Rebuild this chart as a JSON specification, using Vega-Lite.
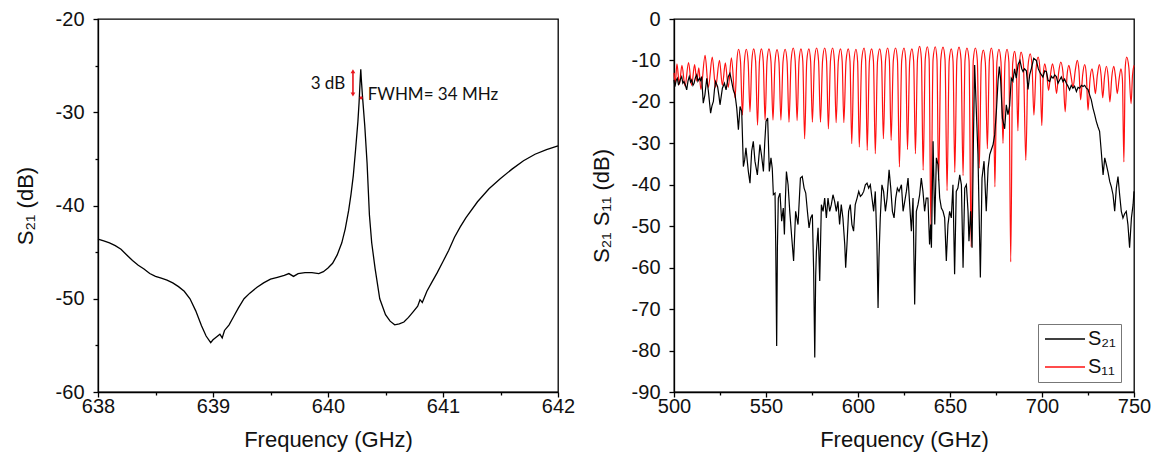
{
  "$schema": "https://vega.github.io/schema/vega-lite/v6.json",
  "background": "white",
  "padding": {"left": 13, "top": 8, "right": 4, "bottom": 4},
  "spacing": 13,
  "config": {
    "view": {"stroke": "#000", "strokeWidth": 1.3},
    "axis": {
      "domainColor": "#000", "domainWidth": 1.3, "tickColor": "#000", "tickWidth": 1.3,
      "labelFont": "Liberation Sans", "labelFontSize": 20, "labelColor": "#111",
      "titleFont": "Liberation Sans", "titleFontSize": 22, "titleFontWeight": "normal", "titleColor": "#111",
      "grid": false, "labelFlush": false, "labelOverlap": false
    },
    "axisX": {"labelPadding": -1, "titlePadding": 13},
    "axisY": {"labelPadding": 9, "titlePadding": 18}
  },
  "datasets": {
    "left": [
      {"f":638.00,"v":-43.6},{"f":638.05,"v":-43.8},{"f":638.10,"v":-44.0},{"f":638.15,"v":-44.3},{"f":638.20,"v":-44.7},
      {"f":638.25,"v":-45.3},{"f":638.30,"v":-45.9},{"f":638.35,"v":-46.4},{"f":638.40,"v":-46.8},{"f":638.45,"v":-47.3},
      {"f":638.50,"v":-47.6},{"f":638.55,"v":-47.8},{"f":638.60,"v":-48.0},{"f":638.65,"v":-48.3},{"f":638.70,"v":-48.7},
      {"f":638.75,"v":-49.2},{"f":638.80,"v":-50.0},{"f":638.85,"v":-51.3},{"f":638.90,"v":-52.9},{"f":638.94,"v":-54.0},
      {"f":638.98,"v":-54.7},{"f":639.00,"v":-54.4},{"f":639.03,"v":-54.1},{"f":639.06,"v":-53.8},{"f":639.08,"v":-54.2},
      {"f":639.10,"v":-53.4},{"f":639.14,"v":-52.8},{"f":639.18,"v":-51.9},{"f":639.22,"v":-51.0},{"f":639.27,"v":-50.0},
      {"f":639.32,"v":-49.4},{"f":639.38,"v":-48.8},{"f":639.44,"v":-48.3},{"f":639.50,"v":-47.9},{"f":639.56,"v":-47.7},
      {"f":639.62,"v":-47.5},{"f":639.66,"v":-47.3},{"f":639.70,"v":-47.6},{"f":639.74,"v":-47.3},{"f":639.80,"v":-47.2},
      {"f":639.86,"v":-47.2},{"f":639.92,"v":-47.3},{"f":639.96,"v":-47.1},{"f":640.00,"v":-46.7},{"f":640.04,"v":-46.2},
      {"f":640.08,"v":-45.3},{"f":640.12,"v":-44.0},{"f":640.15,"v":-42.5},{"f":640.18,"v":-40.5},{"f":640.20,"v":-38.8},
      {"f":640.22,"v":-36.8},{"f":640.24,"v":-34.0},{"f":640.26,"v":-31.0},{"f":640.27,"v":-29.0},{"f":640.28,"v":-26.5},
      {"f":640.285,"v":-25.4},{"f":640.29,"v":-26.5},{"f":640.30,"v":-28.3},{"f":640.32,"v":-31.5},{"f":640.34,"v":-35.5},
      {"f":640.36,"v":-41.0},{"f":640.38,"v":-44.0},{"f":640.41,"v":-46.8},{"f":640.45,"v":-50.0},{"f":640.50,"v":-51.7},
      {"f":640.54,"v":-52.4},{"f":640.58,"v":-52.8},{"f":640.62,"v":-52.7},{"f":640.66,"v":-52.5},{"f":640.70,"v":-52.0},
      {"f":640.74,"v":-51.4},{"f":640.78,"v":-50.8},{"f":640.80,"v":-50.1},{"f":640.82,"v":-50.4},{"f":640.86,"v":-49.2},
      {"f":640.90,"v":-48.3},{"f":640.95,"v":-47.2},{"f":641.00,"v":-46.0},{"f":641.05,"v":-44.8},{"f":641.10,"v":-43.4},
      {"f":641.15,"v":-42.3},{"f":641.20,"v":-41.3},{"f":641.30,"v":-39.6},{"f":641.40,"v":-38.2},{"f":641.50,"v":-37.1},
      {"f":641.60,"v":-36.1},{"f":641.70,"v":-35.2},{"f":641.80,"v":-34.5},{"f":641.90,"v":-34.0},{"f":642.00,"v":-33.6}
    ],
    "s11": [
      {"f":500.0,"v":-13.0},{"f":500.7,"v":-15.5},{"f":501.6,"v":-10.8},{"f":502.9,"v":-15.8},{"f":504.3,"v":-11.2},
      {"f":506.0,"v":-16.2},{"f":507.9,"v":-10.5},{"f":509.6,"v":-16.0},{"f":511.2,"v":-11.0},{"f":512.4,"v":-15.0},
      {"f":513.5,"v":-11.8},{"f":514.6,"v":-17.0},{"f":516.9,"v":-8.8},{"f":518.7,"v":-16.5},{"f":520.8,"v":-9.2},
      {"f":522.6,"v":-16.5},{"f":524.7,"v":-10.0},{"f":526.3,"v":-16.0},{"f":527.9,"v":-10.6},{"f":529.5,"v":-16.5},
      {"f":531.2,"v":-9.4},{"f":533.2,"v":-19.0},
      {"f":534.15,"v":-10.3},{"f":535.1,"v":-7.3},{"f":536.15,"v":-10.3},{"f":537.2,"v":-23.2},
      {"f":538.25,"v":-10.3},{"f":539.3,"v":-7.3},{"f":540.3,"v":-10.3},{"f":541.3,"v":-22.4},
      {"f":542.3,"v":-10.2},{"f":543.3,"v":-7.2},{"f":544.35,"v":-10.2},{"f":545.4,"v":-25.6},
      {"f":546.45,"v":-10.2},{"f":547.5,"v":-7.2},{"f":548.5,"v":-10.2},{"f":549.5,"v":-24.4},
      {"f":550.55,"v":-10.2},{"f":551.6,"v":-7.2},{"f":552.7,"v":-10.2},{"f":553.8,"v":-24.4},
      {"f":554.9,"v":-10.4},{"f":556.0,"v":-7.4},{"f":557.05,"v":-10.4},{"f":558.1,"v":-24.4},
      {"f":559.25,"v":-10.3},{"f":560.4,"v":-7.3},{"f":561.45,"v":-10.3},{"f":562.5,"v":-24.9},
      {"f":563.65,"v":-10.0},{"f":564.8,"v":-7.0},{"f":565.85,"v":-10.0},{"f":566.9,"v":-24.5},
      {"f":567.95,"v":-10.2},{"f":569.0,"v":-7.2},{"f":570.0,"v":-10.2},{"f":571.0,"v":-28.9},
      {"f":572.15,"v":-10.2},{"f":573.3,"v":-7.2},{"f":574.25,"v":-10.2},{"f":575.2,"v":-24.9},
      {"f":576.35,"v":-10.0},{"f":577.5,"v":-7.0},{"f":578.55,"v":-10.0},{"f":579.6,"v":-24.9},
      {"f":580.75,"v":-10.0},{"f":581.9,"v":-7.0},{"f":582.9,"v":-10.0},{"f":583.9,"v":-26.5},
      {"f":585.05,"v":-10.0},{"f":586.2,"v":-7.0},{"f":587.15,"v":-10.0},{"f":588.1,"v":-25.0},
      {"f":589.3,"v":-10.2},{"f":590.5,"v":-7.2},{"f":591.4,"v":-10.2},{"f":592.3,"v":-25.0},
      {"f":593.5,"v":-10.2},{"f":594.7,"v":-7.2},{"f":595.65,"v":-10.2},{"f":596.6,"v":-30.1},
      {"f":597.75,"v":-10.3},{"f":598.9,"v":-7.3},{"f":599.8,"v":-10.3},{"f":600.7,"v":-30.9},
      {"f":602.0,"v":-10.0},{"f":603.3,"v":-7.0},{"f":604.15,"v":-10.0},{"f":605.0,"v":-31.7},
      {"f":606.2,"v":-10.2},{"f":607.4,"v":-7.2},{"f":608.4,"v":-10.2},{"f":609.4,"v":-32.5},
      {"f":610.6,"v":-10.2},{"f":611.8,"v":-7.2},{"f":612.8,"v":-10.2},{"f":613.8,"v":-28.9},
      {"f":614.95,"v":-10.0},{"f":616.1,"v":-7.0},{"f":617.05,"v":-10.0},{"f":618.0,"v":-29.3},
      {"f":619.2,"v":-10.0},{"f":620.4,"v":-7.0},{"f":621.45,"v":-10.0},{"f":622.5,"v":-35.7},
      {"f":623.75,"v":-10.0},{"f":625.0,"v":-7.0},{"f":625.95,"v":-10.0},{"f":626.9,"v":-31.5},
      {"f":628.1,"v":-10.2},{"f":629.3,"v":-7.2},{"f":630.25,"v":-10.2},{"f":631.2,"v":-32.5},
      {"f":632.35,"v":-9.6},{"f":633.5,"v":-6.6},{"f":634.45,"v":-9.6},{"f":635.4,"v":-36.5},
      {"f":636.55,"v":-9.7},{"f":637.7,"v":-6.7},{"f":638.65,"v":-9.7},{"f":639.6,"v":-50.0},
      {"f":640.8,"v":-9.7},{"f":642.0,"v":-6.7},{"f":642.9,"v":-9.7},{"f":643.8,"v":-39.0},
      {"f":645.0,"v":-9.8},{"f":646.2,"v":-6.8},{"f":647.3,"v":-9.8},{"f":648.4,"v":-41.4},
      {"f":649.55,"v":-10.2},{"f":650.7,"v":-7.2},{"f":651.65,"v":-10.2},{"f":652.6,"v":-37.0},
      {"f":653.75,"v":-9.8},{"f":654.9,"v":-6.8},{"f":656.0,"v":-9.8},{"f":657.1,"v":-37.8},
      {"f":658.15,"v":-10.0},{"f":659.2,"v":-7.0},{"f":660.35,"v":-10.0},{"f":661.5,"v":-55.0},
      {"f":662.65,"v":-10.0},{"f":663.8,"v":-7.0},{"f":664.85,"v":-10.0},{"f":665.9,"v":-36.0},
      {"f":667.0,"v":-10.5},{"f":668.1,"v":-7.5},{"f":669.2,"v":-10.5},{"f":670.3,"v":-31.3},
      {"f":671.4,"v":-10.0},{"f":672.5,"v":-7.0},{"f":673.45,"v":-10.0},{"f":674.4,"v":-40.5},
      {"f":675.5,"v":-10.3},{"f":676.6,"v":-7.3},{"f":677.7,"v":-10.3},{"f":678.8,"v":-30.0},
      {"f":679.9,"v":-10.3},{"f":681.0,"v":-7.3},{"f":682.0,"v":-10.3},{"f":683.0,"v":-58.6},
      {"f":684.05,"v":-10.8},{"f":685.1,"v":-7.8},{"f":686.0,"v":-10.8},{"f":686.9,"v":-27.0},
      {"f":687.75,"v":-11.0},{"f":688.6,"v":-8.0},{"f":689.9,"v":-11.0},{"f":691.2,"v":-34.1},
      {"f":692.4,"v":-11.4},{"f":693.6,"v":-8.4},{"f":694.6,"v":-11.4},{"f":695.6,"v":-23.2},
      {"f":696.75,"v":-12.2},{"f":697.9,"v":-9.2},{"f":698.9,"v":-12.2},{"f":699.9,"v":-25.7},
      {"f":700.7,"v":-13.3},{"f":701.5,"v":-10.8},{"f":702.55,"v":-13.3},{"f":703.6,"v":-17.2},
      {"f":704.65,"v":-13.3},{"f":705.7,"v":-10.8},{"f":706.8,"v":-13.3},{"f":707.9,"v":-18.0},
      {"f":709.05,"v":-12.9},{"f":710.2,"v":-10.4},{"f":711.4,"v":-12.9},{"f":712.6,"v":-22.4},
      {"f":713.6,"v":-13.7},{"f":714.6,"v":-11.2},{"f":715.75,"v":-13.7},{"f":716.9,"v":-16.5},
      {"f":718.05,"v":-12.5},{"f":719.2,"v":-10.0},{"f":720.1,"v":-12.5},{"f":721.0,"v":-19.5},
      {"f":722.1,"v":-13.5},{"f":723.2,"v":-11.0},{"f":724.1,"v":-13.5},{"f":725.0,"v":-22.0},
      {"f":726.1,"v":-14.5},{"f":727.2,"v":-12.0},{"f":728.1,"v":-14.5},{"f":729.0,"v":-18.0},
      {"f":730.1,"v":-13.5},{"f":731.2,"v":-11.0},{"f":732.1,"v":-13.5},{"f":733.0,"v":-19.0},
      {"f":734.0,"v":-13.9},{"f":735.0,"v":-11.4},{"f":735.95,"v":-13.9},{"f":736.9,"v":-20.0},
      {"f":737.95,"v":-13.9},{"f":739.0,"v":-11.4},{"f":739.95,"v":-13.9},{"f":740.9,"v":-18.0},
      {"f":741.9,"v":-14.5},{"f":742.9,"v":-12.0},{"f":743.7,"v":-14.5},{"f":744.5,"v":-34.5},
      {"f":745.25,"v":-11.7},{"f":746.0,"v":-9.2},{"f":747.2,"v":-11.7},{"f":748.4,"v":-20.4},
      {"f":749.2,"v":-13.5},{"f":750.0,"v":-11.2}
    ],
    "s21": [
      {"f":500.0,"v":-14.7},{"f":500.5,"v":-16.3},{"f":501.2,"v":-14.8},{"f":501.8,"v":-14.3},{"f":502.4,"v":-15.8},
      {"f":502.9,"v":-15.5},{"f":503.5,"v":-14.5},{"f":504.2,"v":-13.9},{"f":504.8,"v":-15.5},{"f":505.4,"v":-15.1},
      {"f":506.2,"v":-16.0},{"f":506.9,"v":-17.1},{"f":507.6,"v":-15.0},{"f":508.3,"v":-13.9},{"f":509.0,"v":-15.2},
      {"f":509.6,"v":-14.7},{"f":510.3,"v":-16.0},{"f":510.9,"v":-15.5},{"f":511.6,"v":-14.2},{"f":512.3,"v":-13.5},
      {"f":513.0,"v":-15.0},{"f":513.8,"v":-14.3},{"f":514.4,"v":-14.8},{"f":515.0,"v":-13.9},{"f":515.9,"v":-20.3},
      {"f":516.8,"v":-18.3},{"f":517.8,"v":-14.3},{"f":518.7,"v":-17.5},{"f":519.9,"v":-22.7},{"f":520.6,"v":-21.0},
      {"f":521.4,"v":-19.9},{"f":522.0,"v":-17.0},{"f":522.6,"v":-15.1},{"f":523.7,"v":-16.3},{"f":524.4,"v":-18.5},
      {"f":525.0,"v":-20.7},{"f":526.3,"v":-16.7},{"f":527.4,"v":-15.5},{"f":528.3,"v":-17.1},{"f":529.5,"v":-13.9},
      {"f":530.4,"v":-13.1},{"f":531.3,"v":-15.0},{"f":532.2,"v":-17.1},{"f":533.2,"v":-18.3},{"f":534.1,"v":-21.5},
      {"f":535.0,"v":-26.7},{"f":535.9,"v":-21.1},{"f":536.8,"v":-22.3},{"f":537.7,"v":-35.6},{"f":538.4,"v":-34.0},
      {"f":539.1,"v":-31.1},{"f":540.4,"v":-36.8},{"f":541.3,"v":-39.6},{"f":542.2,"v":-31.9},{"f":543.1,"v":-29.5},
      {"f":544.0,"v":-34.3},{"f":545.3,"v":-37.6},{"f":546.7,"v":-30.3},{"f":547.6,"v":-33.0},{"f":548.6,"v":-36.8},
      {"f":549.3,"v":-30.0},{"f":550.0,"v":-24.7},{"f":550.9,"v":-23.9},{"f":551.8,"v":-36.8},{"f":552.7,"v":-33.5},
      {"f":553.4,"v":-36.0},{"f":554.0,"v":-42.4},{"f":554.9,"v":-42.0},{"f":555.3,"v":-55.0},{"f":555.8,"v":-78.9},
      {"f":556.2,"v":-55.0},{"f":556.7,"v":-43.2},{"f":557.6,"v":-42.0},{"f":558.5,"v":-48.8},{"f":559.4,"v":-45.6},
      {"f":560.0,"v":-52.0},{"f":560.5,"v":-44.0},{"f":561.1,"v":-36.8},{"f":562.0,"v":-40.0},{"f":562.9,"v":-46.4},
      {"f":564.0,"v":-52.8},{"f":565.0,"v":-58.4},{"f":566.1,"v":-46.4},{"f":567.4,"v":-49.6},{"f":568.7,"v":-38.4},
      {"f":569.7,"v":-38.0},{"f":570.7,"v":-40.8},{"f":571.6,"v":-42.0},{"f":572.5,"v":-46.4},{"f":573.4,"v":-50.4},
      {"f":574.3,"v":-48.0},{"f":575.2,"v":-47.2},{"f":575.9,"v":-60.8},{"f":576.5,"v":-81.7},{"f":577.0,"v":-62.0},
      {"f":577.4,"v":-56.0},{"f":578.3,"v":-50.4},{"f":579.2,"v":-63.2},{"f":580.1,"v":-44.8},{"f":581.0,"v":-46.4},
      {"f":581.9,"v":-43.2},{"f":582.8,"v":-48.0},{"f":583.7,"v":-43.2},{"f":584.6,"v":-46.4},{"f":585.5,"v":-44.8},
      {"f":586.4,"v":-42.4},{"f":587.3,"v":-44.0},{"f":588.2,"v":-46.4},{"f":589.1,"v":-44.0},{"f":590.0,"v":-49.6},
      {"f":590.9,"v":-44.8},{"f":591.8,"v":-48.0},{"f":592.8,"v":-54.4},{"f":593.3,"v":-60.0},{"f":594.0,"v":-54.4},
      {"f":594.9,"v":-46.4},{"f":595.8,"v":-44.8},{"f":596.7,"v":-49.6},{"f":597.6,"v":-51.2},{"f":598.5,"v":-44.8},
      {"f":599.5,"v":-43.2},{"f":600.4,"v":-41.6},{"f":601.3,"v":-42.8},{"f":602.2,"v":-42.4},{"f":603.1,"v":-41.6},
      {"f":604.0,"v":-40.0},{"f":604.9,"v":-39.6},{"f":605.8,"v":-40.8},{"f":606.7,"v":-40.0},{"f":607.6,"v":-43.2},
      {"f":608.5,"v":-46.4},{"f":609.4,"v":-41.6},{"f":610.3,"v":-54.4},{"f":610.9,"v":-69.7},{"f":611.4,"v":-57.6},
      {"f":612.1,"v":-48.0},{"f":613.0,"v":-40.0},{"f":613.9,"v":-41.6},{"f":614.9,"v":-46.4},{"f":615.8,"v":-43.2},
      {"f":616.9,"v":-36.4},{"f":617.8,"v":-40.8},{"f":618.7,"v":-46.4},{"f":619.6,"v":-48.0},{"f":620.5,"v":-43.2},
      {"f":621.4,"v":-40.8},{"f":622.3,"v":-41.6},{"f":623.6,"v":-40.0},{"f":624.5,"v":-46.4},{"f":625.4,"v":-44.0},
      {"f":626.3,"v":-41.6},{"f":627.2,"v":-38.4},{"f":628.1,"v":-44.8},{"f":629.0,"v":-51.2},{"f":629.9,"v":-43.2},
      {"f":630.8,"v":-68.9},{"f":631.7,"v":-46.4},{"f":632.6,"v":-44.8},{"f":633.5,"v":-42.4},{"f":634.4,"v":-38.4},
      {"f":635.3,"v":-41.6},{"f":636.2,"v":-46.4},{"f":637.1,"v":-43.2},{"f":638.0,"v":-43.2},{"f":638.9,"v":-54.4},
      {"f":639.5,"v":-49.6},{"f":639.9,"v":-55.2},{"f":640.8,"v":-29.5},{"f":641.7,"v":-49.6},{"f":642.6,"v":-33.5},
      {"f":643.5,"v":-35.2},{"f":644.4,"v":-43.2},{"f":645.3,"v":-45.6},{"f":646.2,"v":-46.4},{"f":647.1,"v":-48.0},
      {"f":648.0,"v":-58.4},{"f":648.9,"v":-49.6},{"f":649.8,"v":-46.4},{"f":650.7,"v":-48.0},{"f":651.6,"v":-40.0},
      {"f":652.5,"v":-61.6},{"f":653.4,"v":-41.6},{"f":654.3,"v":-40.8},{"f":655.3,"v":-37.6},{"f":656.2,"v":-40.0},
      {"f":657.1,"v":-60.0},{"f":658.0,"v":-40.8},{"f":658.9,"v":-40.0},{"f":659.8,"v":-46.4},{"f":660.3,"v":-53.6},
      {"f":661.2,"v":-46.4},{"f":662.0,"v":-55.2},{"f":662.7,"v":-30.0},{"f":663.4,"v":-11.1},{"f":664.3,"v":-22.0},
      {"f":665.2,"v":-32.7},{"f":666.5,"v":-62.4},{"f":667.4,"v":-38.4},{"f":668.5,"v":-34.3},{"f":669.7,"v":-46.4},
      {"f":670.7,"v":-36.0},{"f":671.6,"v":-32.7},{"f":672.5,"v":-31.5},{"f":673.4,"v":-30.3},{"f":674.3,"v":-27.9},
      {"f":675.2,"v":-22.3},{"f":676.1,"v":-15.0},{"f":676.8,"v":-11.5},{"f":677.5,"v":-14.5},{"f":678.5,"v":-24.0},
      {"f":679.7,"v":-26.5},{"f":680.6,"v":-20.7},{"f":681.5,"v":-23.1},{"f":682.4,"v":-21.0},{"f":683.3,"v":-14.3},
      {"f":684.2,"v":-15.0},{"f":685.1,"v":-12.0},{"f":686.0,"v":-14.3},{"f":687.0,"v":-11.0},{"f":688.0,"v":-10.0},
      {"f":689.0,"v":-12.0},{"f":689.7,"v":-12.7},{"f":690.5,"v":-12.0},{"f":691.5,"v":-12.5},{"f":692.4,"v":-17.0},
      {"f":693.3,"v":-13.5},{"f":694.2,"v":-12.0},{"f":695.5,"v":-9.5},{"f":696.9,"v":-10.0},{"f":698.0,"v":-12.0},
      {"f":699.0,"v":-13.0},{"f":700.5,"v":-14.0},{"f":701.5,"v":-12.5},{"f":702.4,"v":-12.7},{"f":703.3,"v":-14.8},
      {"f":704.2,"v":-15.1},{"f":705.1,"v":-13.8},{"f":706.0,"v":-14.3},{"f":706.9,"v":-13.5},{"f":707.8,"v":-13.9},
      {"f":708.7,"v":-15.5},{"f":709.6,"v":-14.7},{"f":710.5,"v":-14.0},{"f":711.4,"v":-15.1},{"f":712.3,"v":-14.5},
      {"f":713.2,"v":-15.5},{"f":714.1,"v":-16.2},{"f":715.0,"v":-17.1},{"f":715.9,"v":-16.0},{"f":716.8,"v":-16.7},
      {"f":717.7,"v":-16.2},{"f":718.7,"v":-17.5},{"f":719.6,"v":-16.5},{"f":720.5,"v":-16.7},{"f":721.4,"v":-16.0},
      {"f":722.3,"v":-16.3},{"f":723.2,"v":-16.0},{"f":724.1,"v":-16.7},{"f":725.0,"v":-17.0},{"f":725.9,"v":-18.3},
      {"f":726.8,"v":-19.5},{"f":727.7,"v":-21.5},{"f":728.6,"v":-23.0},{"f":729.5,"v":-24.7},{"f":730.4,"v":-26.0},
      {"f":731.3,"v":-27.1},{"f":732.2,"v":-31.9},{"f":733.2,"v":-37.6},{"f":734.1,"v":-33.5},{"f":735.0,"v":-35.2},
      {"f":735.9,"v":-37.0},{"f":736.8,"v":-39.2},{"f":737.7,"v":-40.5},{"f":738.6,"v":-42.4},{"f":739.5,"v":-46.4},
      {"f":740.4,"v":-40.8},{"f":741.3,"v":-38.0},{"f":742.2,"v":-42.4},{"f":743.1,"v":-46.4},{"f":744.0,"v":-48.0},
      {"f":744.9,"v":-47.0},{"f":745.8,"v":-46.4},{"f":746.7,"v":-49.6},{"f":747.6,"v":-55.2},{"f":748.6,"v":-48.0},
      {"f":749.5,"v":-44.8},{"f":750.0,"v":-41.6}
    ]
  },
  "hconcat": [
    {
      "width": 460,
      "height": 373,
      "layer": [
        {
          "data": {"name": "left"},
          "mark": {"type": "line", "color": "#000", "strokeWidth": 1.3},
          "encoding": {
            "x": {"field": "f", "type": "quantitative",
              "scale": {"domain": [638, 642], "nice": false, "zero": false},
              "axis": {"title": "Frequency (GHz)", "values": [638, 638.5, 639, 639.5, 640, 640.5, 641, 641.5, 642],
                "labelExpr": "datum.value % 1 === 0 ? '' + datum.value : ''",
                "tickSize": {"condition": {"test": "datum.value % 1 === 0", "value": 5}, "value": 3}}},
            "y": {"field": "v", "type": "quantitative",
              "scale": {"domain": [-60, -20], "nice": false, "zero": false},
              "axis": {"title": "S₂₁ (dB)", "values": [-60, -55, -50, -45, -40, -35, -30, -25, -20],
                "labelExpr": "datum.value % 10 === 0 ? '' + datum.value : ''",
                "tickSize": {"condition": {"test": "datum.value % 10 === 0", "value": 5}, "value": 3}}}
          }
        },
        {
          "data": {"values": [{"f": 640.217, "top": -25.7, "bottom": -28.0}]},
          "mark": {"type": "rule", "color": "#e8141c", "strokeWidth": 1.6},
          "encoding": {
            "x": {"field": "f", "type": "quantitative"},
            "y": {"field": "top", "type": "quantitative"},
            "y2": {"field": "bottom"}
          }
        },
        {
          "data": {"values": [{"f": 640.217, "v": -25.6}]},
          "mark": {"type": "point", "shape": "triangle-up", "filled": true, "color": "#e8141c", "size": 22, "opacity": 1},
          "encoding": {
            "x": {"field": "f", "type": "quantitative"},
            "y": {"field": "v", "type": "quantitative"}
          }
        },
        {
          "data": {"values": [{"f": 640.217, "v": -28.1}]},
          "mark": {"type": "point", "shape": "triangle-down", "filled": true, "color": "#e8141c", "size": 22, "opacity": 1},
          "encoding": {
            "x": {"field": "f", "type": "quantitative"},
            "y": {"field": "v", "type": "quantitative"}
          }
        },
        {
          "data": {"values": [{"f": 640.288, "v": -28.45}]},
          "mark": {"type": "point", "shape": "circle", "filled": true, "color": "#e8141c", "size": 10, "opacity": 1},
          "encoding": {
            "x": {"field": "f", "type": "quantitative"},
            "y": {"field": "v", "type": "quantitative"}
          }
        },
        {
          "data": {"values": [{"f": 640.15, "v": -26.95, "label": "3 dB"}]},
          "mark": {"type": "text", "align": "right", "baseline": "middle", "font": "Lato", "fontSize": 17, "color": "#111"},
          "encoding": {
            "x": {"field": "f", "type": "quantitative"},
            "y": {"field": "v", "type": "quantitative"},
            "text": {"field": "label"}
          }
        },
        {
          "data": {"values": [{"f": 640.345, "v": -28.2, "label": "FWHM= 34 MHz"}]},
          "mark": {"type": "text", "align": "left", "baseline": "middle", "font": "Lato", "fontSize": 17, "color": "#111"},
          "encoding": {
            "x": {"field": "f", "type": "quantitative"},
            "y": {"field": "v", "type": "quantitative"},
            "text": {"field": "label"}
          }
        }
      ]
    },
    {
      "width": 460,
      "height": 373,
      "layer": [
        {
          "data": {"name": "s11"},
          "mark": {"type": "line", "strokeWidth": 1.2, "interpolate": "monotone"},
          "encoding": {
            "x": {"field": "f", "type": "quantitative",
              "scale": {"domain": [500, 750], "nice": false, "zero": false},
              "axis": {"title": "Frequency (GHz)", "values": [500, 525, 550, 575, 600, 625, 650, 675, 700, 725, 750],
                "labelExpr": "datum.value % 50 === 0 ? '' + datum.value : ''",
                "tickSize": {"condition": {"test": "datum.value % 50 === 0", "value": 5}, "value": 3}}},
            "y": {"field": "v", "type": "quantitative",
              "scale": {"domain": [-90, 0], "nice": false, "zero": false},
              "axis": {"title": "S₂₁ S₁₁ (dB)", "values": [-90, -85, -80, -75, -70, -65, -60, -55, -50, -45, -40, -35, -30, -25, -20, -15, -10, -5, 0],
                "labelExpr": "datum.value % 10 === 0 ? '' + datum.value : ''",
                "tickSize": {"condition": {"test": "datum.value % 10 === 0", "value": 5}, "value": 3}}},
            "color": {"datum": "S₁₁", "type": "nominal",
              "scale": {"domain": ["S₂₁", "S₁₁"], "range": ["#000000", "#ff1010"]},
              "legend": {"title": null, "orient": "none", "legendX": 940, "legendY": 305,
                "symbolType": "M-1.6,0H6.4", "symbolSize": 100, "symbolStrokeWidth": 1.3,
                "labelFont": "Liberation Sans", "labelFontSize": 20, "labelColor": "#111", "labelOffset": 25,
                "strokeColor": "#777", "fillColor": "white", "padding": 5, "rowPadding": 8}}
          }
        },
        {
          "data": {"name": "s21"},
          "mark": {"type": "line", "strokeWidth": 1.2},
          "encoding": {
            "x": {"field": "f", "type": "quantitative"},
            "y": {"field": "v", "type": "quantitative"},
            "color": {"datum": "S₂₁", "type": "nominal"}
          }
        }
      ]
    }
  ]
}
